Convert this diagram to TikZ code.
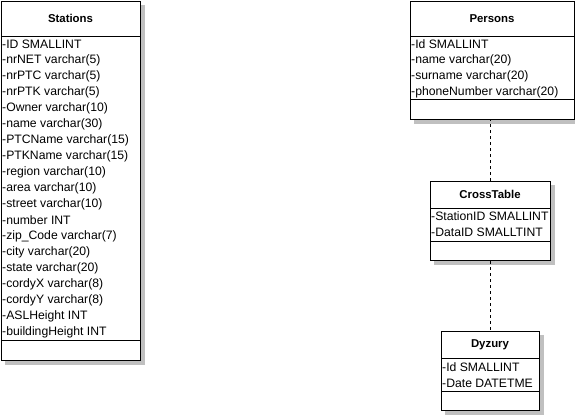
\documentclass[tikz,border=0pt]{standalone}
\usepackage{fontspec}
\setmainfont{Liberation Sans}
\definecolor{shadowgray}{RGB}{192,192,192}
\begin{document}
\begin{tikzpicture}[x=1pt,y=-1pt,
  box/.style={draw=black,line width=1pt,fill=white},
  shadowfill/.style={fill=shadowgray},
  title/.style={font=\fontsize{11.4}{12}\selectfont\bfseries,inner sep=0pt},
  row/.style={font=\fontsize{12.2}{12}\selectfont,inner sep=0pt,anchor=west},
  rel/.style={line width=1pt,dash pattern=on 3pt off 3pt}]
\useasboundingbox (0,0) rectangle (575,415);
% Stations
\path[shadowfill] (5,5) rectangle (144.5,364.5);
\node[box,minimum width=139pt,minimum height=359pt,anchor=north west,inner sep=0pt] (st) at (1,1) {};
\draw[line width=1pt] (1,36) -- (140,36);
\draw[line width=1pt] (1,340) -- (140,340);
\node[title] (stt) at (70.5,18.5) {Stations};
\foreach \t [count=\i from 0] in {{-ID SMALLINT},{-nrNET varchar(5)},{-nrPTC varchar(5)},{-nrPTK varchar(5)},{-Owner varchar(10)},{-name varchar(30)},{-PTCName varchar(15)},{-PTKName varchar(15)},{-region varchar(10)},{-area varchar(10)},{-street varchar(10)},{-number INT},{-zip\_Code varchar(7)},{-city varchar(20)},{-state varchar(20)},{-cordyX varchar(8)},{-cordyY varchar(8)},{-ASLHeight INT},{-buildingHeight INT}}
  \node[row] (sr\i) at (2,44+16*\i) {\t};
% Persons
\path[shadowfill] (414,5) rectangle (578,123.5);
\node[box,minimum width=164pt,minimum height=118pt,anchor=north west,inner sep=0pt] (pe) at (410,1) {};
\draw[line width=1pt] (410,36) -- (574,36);
\draw[line width=1pt] (410,99) -- (574,99);
\node[title] (pet) at (492,18.5) {Persons};
\foreach \t [count=\i from 0] in {{-Id SMALLINT},{-name varchar(20)},{-surname varchar(20)},{-phoneNumber varchar(20)}}
  \node[row] (pr\i) at (411,44+16*\i) {\t};
% CrossTable
\path[shadowfill] (434,185) rectangle (554.5,264.5);
\node[box,minimum width=120pt,minimum height=79pt,anchor=north west,inner sep=0pt] (ct) at (430,181) {};
\draw[line width=1pt] (430,208) -- (550,208);
\draw[line width=1pt] (430,241) -- (550,241);
\node[title] (ctt) at (490,194.5) {CrossTable};
\foreach \t [count=\i from 0] in {{-StationID SMALLINT},{-DataID SMALLTINT}}
  \node[row] (cr\i) at (431,216+16*\i) {\t};
% Dyzury
\path[shadowfill] (445,335) rectangle (543.5,414.5);
\node[box,minimum width=98pt,minimum height=79pt,anchor=north west,inner sep=0pt] (dy) at (441,331) {};
\draw[line width=1pt] (441,358) -- (539,358);
\draw[line width=1pt] (441,391) -- (539,391);
\node[title] (dyt) at (490,344.5) {Dyzury};
\foreach \t [count=\i from 0] in {{-Id SMALLINT},{-Date DATETME}}
  \node[row] (dr\i) at (442,367+16*\i) {\t};
% relations
\draw[rel] (ct.north) -- (ct.north |- pe.south);
\draw[rel] (ct.south) -- (ct.south |- dy.north);
\end{tikzpicture}
\end{document}
